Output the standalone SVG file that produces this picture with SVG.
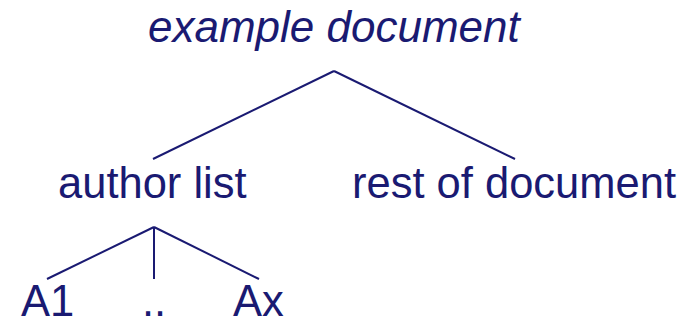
<svg xmlns="http://www.w3.org/2000/svg" width="699" height="320" viewBox="0 0 699 320">
<style>
text{font-family:"Liberation Sans",Arial,sans-serif;fill:#1a1a72;font-size:43.5px}
.it{font-style:italic;font-size:44px}
.c line{stroke:#1a1a72;stroke-width:2;stroke-linecap:butt}
</style>
<rect width="699" height="320" fill="#ffffff"/>
<g id="example-document"><text class="it" x="148" y="42">example document</text></g>
<g id="author-list"><text x="58" y="198">author list</text></g>
<g id="rest-of-document"><text x="352" y="198">rest of document</text></g>
<g id="A1"><text x="21" y="316">A1</text></g>
<g id="dots"><text x="154" y="316" text-anchor="middle">..</text></g>
<g id="Ax"><text x="233" y="316">Ax</text></g>
<g class="c" id="connectors">
<line x1="334" y1="71" x2="153" y2="159"/>
<line x1="334" y1="71" x2="515" y2="159"/>
<line x1="154" y1="227" x2="47" y2="279"/>
<line x1="154" y1="227" x2="154" y2="279"/>
<line x1="154" y1="227" x2="259" y2="279"/>
</g>
</svg>
